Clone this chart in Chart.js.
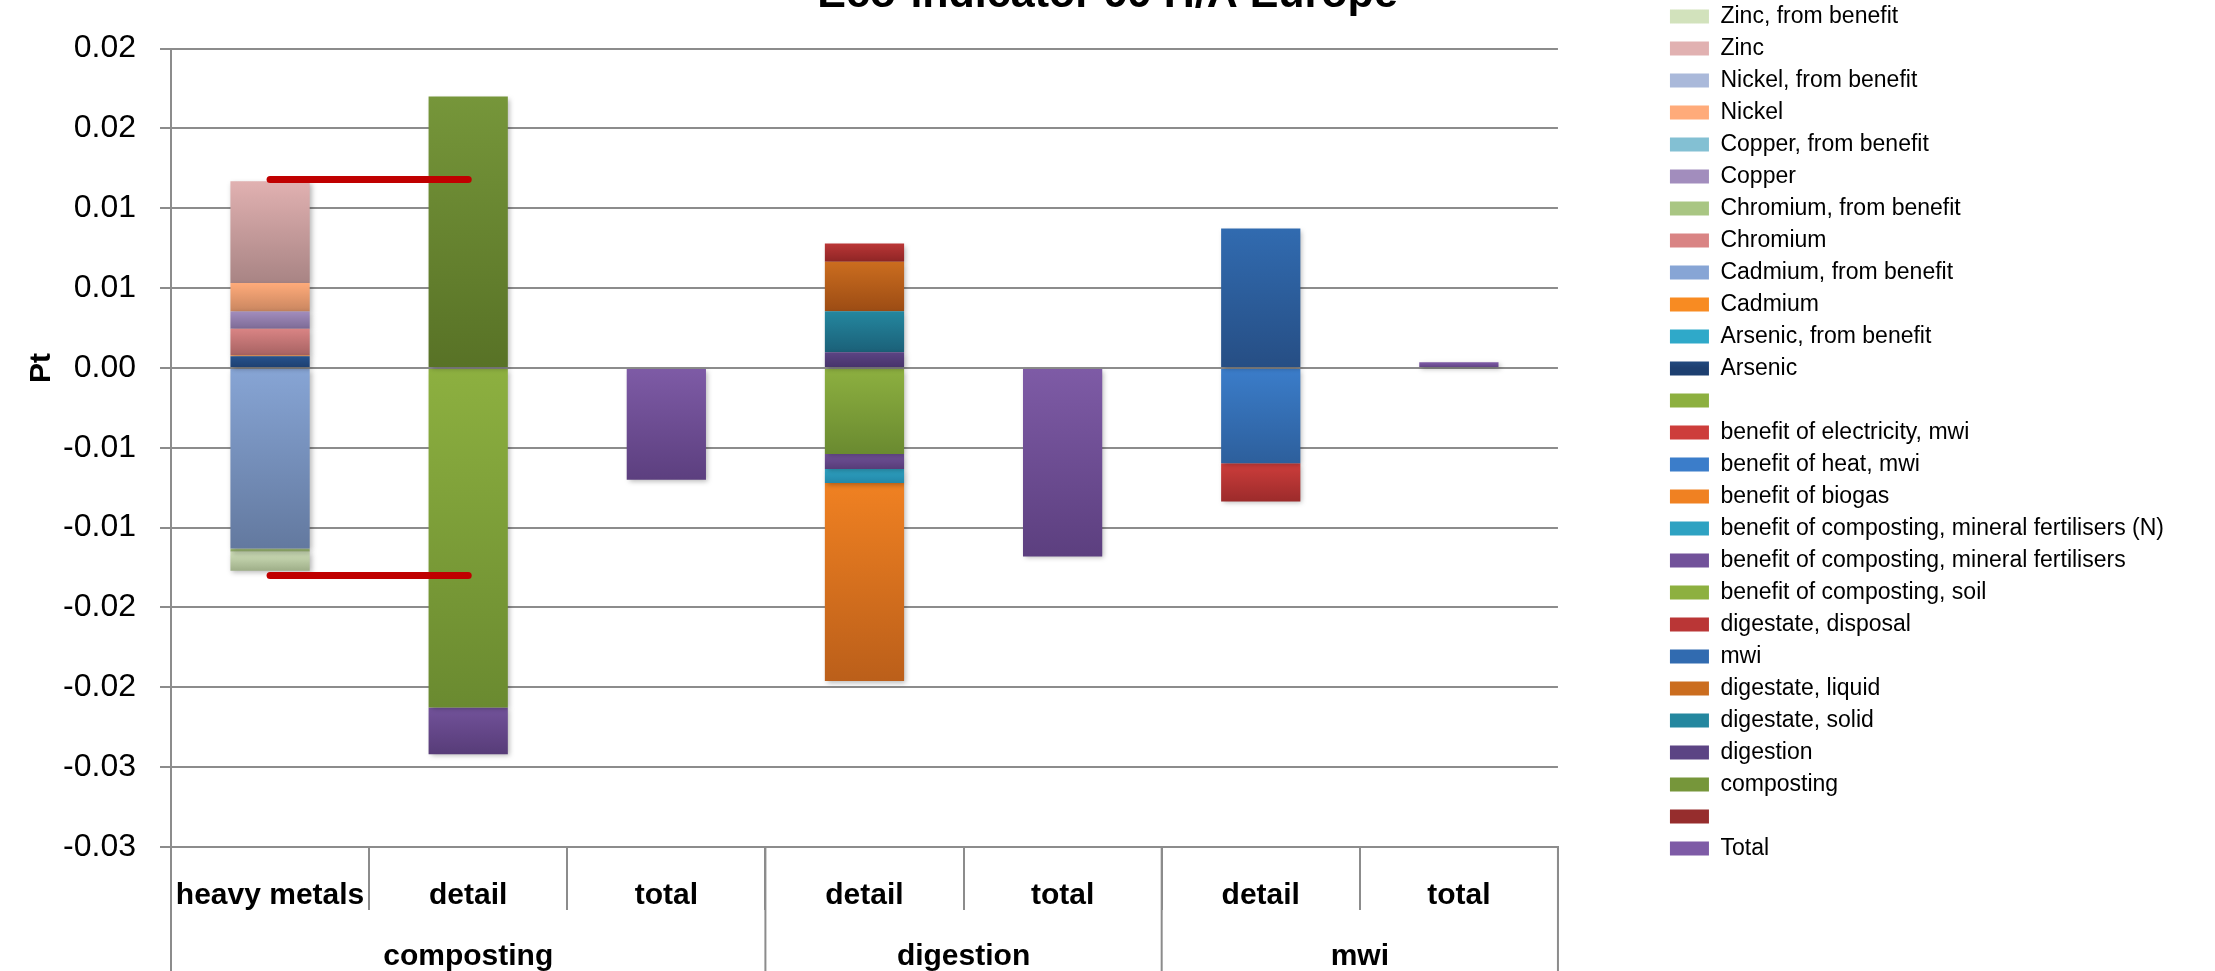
<!DOCTYPE html>
<html>
<head>
<meta charset="utf-8">
<script src="https://cdn.jsdelivr.net/npm/chart.js@4/dist/chart.umd.min.js"></script>
<style>
  html, body { margin: 0; padding: 0; overflow: hidden; background: #fff; }
  #wrap { position: absolute; left: 0; top: -31px; width: 2215px; height: 1040px; }
</style>
</head>
<body>
<div id="wrap"><canvas id="chart"></canvas></div>
<script>
const categories = ['heavy metals', 'detail', 'total', 'detail', 'total', 'detail', 'total'];
const groupLabels = ['composting', 'digestion', 'mwi'];
const groupSizes = [3, 2, 2];
const yTickLabels = ['-0.03', '-0.03', '-0.02', '-0.02', '-0.01', '-0.01', '0.00', '0.01', '0.01', '0.02', '0.02'];

const N = null;
const total              = [N, N, -0.0070, N, -0.0118, N, 0.00035];
const blankRed           = [N, N, N, N, N, N, N];
const composting         = [N, 0.0170, N, N, N, N, N];
const digestion          = [N, N, N, 0.00098, N, N, N];
const digestateSolid     = [N, N, N, 0.00257, N, N, N];
const digestateLiquid    = [N, N, N, 0.0031, N, N, N];
const mwi                = [N, N, N, N, N, 0.00873, N];
const digestateDisposal  = [N, N, N, 0.00114, N, N, N];
const benefitSoil        = [N, -0.02126, N, -0.00539, N, N, N];
const benefitMineral     = [N, -0.00293, N, -0.00094, N, N, N];
const benefitMineralN    = [N, N, N, -0.00088, N, N, N];
const benefitBiogas      = [N, N, N, -0.01239, N, N, N];
const benefitHeat        = [N, N, N, N, N, -0.00596, N];
const benefitElectricity = [N, N, N, N, N, -0.0024, N];
const blankGreen         = [N, N, N, N, N, N, N];
const arsenic            = [0.00073, N, N, N, N, N, N];
const arsenicBenefit     = [N, N, N, N, N, N, N];
const cadmium            = [0.00005, N, N, N, N, N, N];
const cadmiumBenefit     = [-0.0113, N, N, N, N, N, N];
const chromium           = [0.00167, N, N, N, N, N, N];
const chromiumBenefit    = [-0.0002, N, N, N, N, N, N];
const copper             = [0.00109, N, N, N, N, N, N];
const copperBenefit      = [N, N, N, N, N, N, N];
const nickel             = [0.00178, N, N, N, N, N, N];
const nickelBenefit      = [N, N, N, N, N, N, N];
const zinc               = [0.00637, N, N, N, N, N, N];
const zincBenefit        = [-0.0012, N, N, N, N, N, N];

// range of the heavy metals column, carried over to the composting detail
const heavyMetalsRange = [0.0118, -0.0130];

// series in stacking order (first one sits at the bottom), with top/bottom shade
const series = [
  ['Total', total, '#7e5ba6', '#5c3f7f'],
  ['', blankRed, '#962d2d', '#7a2020'],
  ['composting', composting, '#76963a', '#587226'],
  ['digestion', digestion, '#5c4484', '#46336a'],
  ['digestate, solid', digestateSolid, '#24879f', '#1b6078'],
  ['digestate, liquid', digestateLiquid, '#cb6d1f', '#9c4c14'],
  ['mwi', mwi, '#316bb0', '#264e84'],
  ['digestate, disposal', digestateDisposal, '#ba3636', '#8e2525'],
  ['benefit of composting, soil', benefitSoil, '#8db040', '#6a8a30'],
  ['benefit of composting, mineral fertilisers', benefitMineral, '#72529a', '#573c78'],
  ['benefit of composting, mineral fertilisers (N)', benefitMineralN, '#2ea2c2', '#2387a8'],
  ['benefit of biogas', benefitBiogas, '#f08122', '#bb5f1a'],
  ['benefit of heat, mwi', benefitHeat, '#3b7dca', '#2d5f9c'],
  ['benefit of electricity, mwi', benefitElectricity, '#cd3d3b', '#9c2b2b'],
  ['', blankGreen, '#8db040', '#6f9030'],
  ['Arsenic', arsenic, '#26528c', '#1d3f70'],
  ['Arsenic, from benefit', arsenicBenefit, '#2fa9c9', '#2288a6'],
  ['Cadmium', cadmium, '#f88b22', '#d06a14'],
  ['Cadmium, from benefit', cadmiumBenefit, '#87a5d5', '#63799f'],
  ['Chromium', chromium, '#d98484', '#a66262'],
  ['Chromium, from benefit', chromiumBenefit, '#a9c683', '#86a060'],
  ['Copper', copper, '#a28dbd', '#7d6b96'],
  ['Copper, from benefit', copperBenefit, '#83c0d3', '#5e9cb0'],
  ['Nickel', nickel, '#ffab7a', '#c98660'],
  ['Nickel, from benefit', nickelBenefit, '#aab9da', '#8796b6'],
  ['Zinc', zinc, '#e1b1b1', '#a88484'],
  ['Zinc, from benefit', zincBenefit, '#d2e2bc', '#9eae88']
];

const FONT = "'Liberation Sans', Arial, sans-serif";
const GRID = '#8c8c8c';
const LEGEND_TOP = 27;

// vertical light-to-dark fill over each stacked segment
function shade(ctx) {
  const ds = ctx.dataset;
  const v = ctx.raw;
  const chart = ctx.chart;
  if (ctx.type !== 'data' || v == null || !chart.chartArea) return ds.shadeTop;
  let base = 0;
  for (let k = 0; k < ctx.datasetIndex; k++) {
    const other = chart.data.datasets[k];
    if (other.type === 'line') continue;
    const w = other.data[ctx.dataIndex];
    if (w != null && Math.sign(w) === Math.sign(v)) base += w;
  }
  const y = chart.scales.y;
  const p0 = y.getPixelForValue(base);
  const p1 = y.getPixelForValue(base + v);
  const g = chart.ctx.createLinearGradient(0, Math.min(p0, p1), 0, Math.max(p0, p1) + 0.01);
  g.addColorStop(0, ds.shadeTop);
  g.addColorStop(1, ds.shadeBottom);
  return g;
}

const datasets = series.map(([label, data, top, bottom]) => ({
  type: 'bar',
  label,
  data,
  shadeTop: top,
  shadeBottom: bottom,
  backgroundColor: shade,
  borderWidth: 0,
  barPercentage: 1,
  categoryPercentage: 0.4
}));

heavyMetalsRange.forEach((v, i) => {
  datasets.push({
    type: 'line',
    label: 'range ' + i,
    data: categories.map((c, j) => (j < 2 ? v : null)),
    stack: 'range' + i,
    order: -1,
    borderColor: '#c00000',
    borderWidth: 7,
    borderCapStyle: 'round',
    pointRadius: 0,
    fill: false
  });
});

// soft drop shadow under the columns
const barShadow = {
  id: 'barShadow',
  beforeDatasetDraw(chart, args) {
    if (args.meta.type !== 'bar') return;
    const c = chart.ctx;
    c.save();
    c.shadowColor = 'rgba(0,0,0,0.28)';
    c.shadowBlur = 5;
    c.shadowOffsetX = 2;
    c.shadowOffsetY = 2;
  },
  afterDatasetDraw(chart, args) {
    if (args.meta.type === 'bar') chart.ctx.restore();
  }
};

// legend list starts near the top edge instead of being centred
const legendPlace = {
  id: 'legendPlace',
  afterLayout(chart) {
    chart.legend.top = LEGEND_TOP;
  }
};

// second row of category labels, group separators and the unit label
const groupAxis = {
  id: 'groupAxis',
  afterDraw(chart) {
    const c = chart.ctx;
    const x = chart.scales.x;
    const y = chart.scales.y;
    const area = chart.chartArea;
    const half = (x.getPixelForValue(1) - x.getPixelForValue(0)) / 2;
    const edge = i => x.getPixelForValue(i) - half;
    c.save();
    c.strokeStyle = GRID;
    c.lineWidth = 2;
    c.fillStyle = '#000';
    c.font = 'bold 30px ' + FONT;
    c.textAlign = 'center';
    c.textBaseline = 'middle';
    c.beginPath();
    c.moveTo(edge(0), area.bottom);
    c.lineTo(edge(0), chart.height);
    let start = 0;
    groupLabels.forEach((name, g) => {
      const end = start + groupSizes[g];
      const left = edge(start);
      const right = edge(end);
      c.moveTo(right, area.bottom);
      c.lineTo(right, chart.height);
      c.fillText(name, (left + right) / 2, area.bottom + 110);
      start = end;
    });
    c.stroke();

    c.translate(42, y.getPixelForValue(0));
    c.rotate(-Math.PI / 2);
    c.fillText('Pt', 0, 0);
    c.restore();
  }
};

new Chart(document.getElementById('chart'), {
  data: { labels: categories, datasets },
  plugins: [barShadow, legendPlace, groupAxis],
  options: {
    responsive: true,
    maintainAspectRatio: false,
    animation: false,
    events: [],
    layout: { padding: 0 },
    plugins: {
      title: {
        display: true,
        text: 'Eco-indicator 99 H/A Europe',
        color: '#000',
        font: { family: FONT, size: 43, weight: 'bold' },
        padding: { top: 0, bottom: 28 }
      },
      legend: {
        position: 'right',
        align: 'start',
        reverse: true,
        maxWidth: 700,
        labels: {
          filter: (item, data) => data.datasets[item.datasetIndex].type !== 'line',
          boxWidth: 39,
          boxHeight: 14,
          padding: 9,
          color: '#000',
          font: { family: FONT, size: 23 }
        }
      },
      tooltip: { enabled: false }
    },
    scales: {
      x: {
        stacked: true,
        grid: { offset: true, drawOnChartArea: false, tickLength: 63, color: GRID, lineWidth: 2 },
        border: { color: GRID, width: 2 },
        ticks: {
          color: '#000',
          font: { family: FONT, size: 30, weight: 'bold' },
          padding: -32,
          maxRotation: 0,
          autoSkip: false
        },
        afterFit: s => { s.height = 162; }
      },
      y: {
        stacked: true,
        min: -0.03,
        max: 0.02,
        grid: { color: GRID, lineWidth: 2, tickLength: 11 },
        border: { color: GRID, width: 2 },
        ticks: {
          stepSize: 0.005,
          color: '#000',
          padding: 24,
          font: { family: FONT, size: 32 },
          callback: (value, index) => yTickLabels[index]
        },
        afterFit: s => { s.width = 171; }
      },
      gap: {
        type: 'linear',
        position: 'right',
        weight: 0,
        grid: { display: false },
        border: { display: false },
        ticks: { display: false },
        afterFit: s => { s.width = 103; }
      },
      edge: {
        type: 'linear',
        position: 'right',
        weight: 2000,
        grid: { display: false },
        border: { display: false },
        ticks: { display: false },
        afterFit: s => { s.width = 41; }
      }
    }
  }
});
</script>
</body>
</html>
